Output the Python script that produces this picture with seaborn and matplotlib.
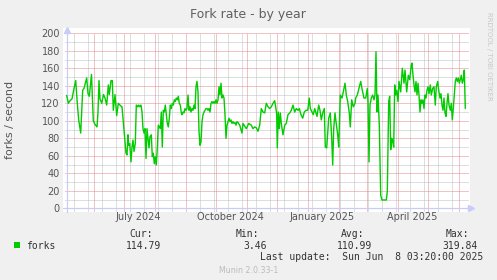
import numpy as np
import pandas as pd
import matplotlib
matplotlib.use("Agg")
import matplotlib.pyplot as plt
import matplotlib.dates as mdates
from matplotlib.patches import Rectangle
import seaborn as sns

# ---------------- data ----------------
start_date = "2024-05-04"
day_offset = [
    0.7, 2.3, 4, 6, 7.3, 9.7, 11.3, 12.7, 14.7, 16.7,
    18, 20.7, 22, 23.3, 25.5, 27.3, 29, 31, 32, 33,
    34, 35.7, 37.5, 39, 40.7, 42.3, 43.3, 45, 46.3, 47.3,
    49, 50.7, 52.3, 54.7, 56, 57, 58.7, 60, 61, 62,
    62.7, 63.7, 65, 66, 67, 68, 69.3, 70.3, 71.7, 72.7,
    73.7, 75, 76, 77, 78, 79, 80, 81, 82, 83,
    84, 85.3, 86.3, 87.3, 88.3, 89.3, 90.3, 91.3, 92.3, 93.3,
    94.3, 95.3, 96.3, 97.3, 98.3, 99.3, 100.3, 101.3, 102.3, 103.3,
    104.3, 105.3, 106.3, 107.3, 108.3, 109.3, 110.3, 111.3, 112.3, 113.3,
    114.3, 115.3, 116, 117, 118, 119, 120, 121, 122, 123,
    124, 125, 126, 127, 128, 129, 130, 131, 132, 133,
    134, 135, 136, 137, 138, 139, 140, 141, 142, 143,
    144, 145, 146, 147, 148, 149, 150, 151, 152, 153,
    154, 155, 156, 157, 158, 159, 160, 161, 162, 163,
    164, 165, 166, 167, 168, 169, 170, 171,
    172, 173.7, 176, 177, 180.3, 182.7, 185.3, 187, 188.7, 190.3,
    192, 193.7, 195.3, 197, 198.7, 200.3, 202, 203.7, 205.3, 207,
    208.7, 209.7, 210.7, 211.3, 212.3, 213.3, 214.3, 215.3, 217, 218.7,
    220.3, 222, 223.7, 225.3, 227, 228.7, 230.3, 232, 233.3, 235,
    236.7, 238.3, 240, 241.7, 243.3, 244.3, 246, 247.3, 248.7, 250,
    251, 252.7, 254, 255.3, 256.7, 258.3, 259.3, 260.7, 262.7, 264.3,
    265.7, 266.7, 267.7, 269, 270, 271.7, 272.7, 274.3, 276, 277.3,
    279, 280.3, 281.7, 283.3, 284.3, 285.7, 287.3, 289, 289.7, 291.3,
    293, 294.7, 296.3, 298, 299.7, 301.3, 302, 303, 304, 305.3,
    306.7, 308, 309, 310, 311, 312, 313.3, 314.7, 316, 318,
    320.3, 321.3, 322.7, 323.7, 324.7, 325.7, 326.7, 327.7, 328.7, 329.7,
    330.7, 332, 333, 334.7, 336.3, 338, 339, 340.7, 342.3, 343.7,
    345.3, 346, 347, 348, 349, 350, 351, 352, 353, 354,
    355, 356, 357, 358, 359, 360, 361, 362, 363, 364.3,
    365.3, 366.7, 368, 369.3, 370.3, 371.7, 372.7, 374, 375, 376,
    377, 378, 379, 380, 381, 382, 383, 384.3, 385.3, 386.3,
    387.3, 388.3, 389.3, 390.3, 391.3, 392.3, 393.3, 394.3, 395.3, 396.3,
    397.3, 398.3, 399.3,
]
forks = [
    129, 120, 123, 125, 133, 146, 120, 101, 86, 135,
    137, 149, 131, 128, 153, 100, 96, 93, 110, 146,
    125, 120, 130, 126, 118, 141, 130, 146, 146, 112,
    130, 106, 120, 117, 116, 103, 82, 63, 61, 84,
    72, 74, 53, 70, 78, 65, 74, 118, 116, 118,
    116, 118, 110, 91, 86, 91, 57, 91, 80, 69,
    82, 84, 59, 63, 51, 59, 49.5, 69, 95, 93,
    91, 110, 70, 112, 110, 118, 107, 97, 93, 103,
    118, 114, 120, 118, 124, 122, 126, 124, 128, 120,
    118, 109, 107, 110, 109, 114, 112, 114, 129.5, 112,
    116, 110, 114, 112, 118, 114, 139, 145, 133, 88,
    72, 76, 99, 107, 110, 112, 114, 114, 112, 114,
    110, 120, 122, 120, 122, 120, 124, 120, 124, 139,
    129.5, 143, 126, 129.5, 126, 107, 80, 95, 99, 103,
    99, 101, 97, 99, 97, 98, 95, 99,
    98, 95, 86, 97, 91, 97, 95, 91, 93, 92,
    88, 95, 114, 110, 109, 120, 116, 114, 116, 120,
    123, 116, 107, 69, 110, 91, 109, 97, 84, 95,
    97, 107, 109, 112, 118, 110, 114, 112, 114, 107,
    103, 110, 112, 112, 126, 114, 110, 107, 114, 109,
    105, 118, 112, 101, 109, 114, 70, 69, 103, 109,
    80, 49.5, 91, 109, 99, 84, 70, 129.5, 126, 133,
    143, 129.5, 122, 109, 93, 124, 116, 120, 126, 129.5,
    137, 145, 135, 126, 126, 137, 122, 53, 118, 126,
    129.5, 124, 129.5, 179, 110, 129.5, 95, 15, 9.5, 9.5,
    9.5, 19, 122, 128, 67, 80, 76, 70, 141, 129.5,
    135, 122, 145, 133, 160, 143, 158, 133, 152, 147,
    164, 166, 152, 141, 133, 145, 129.5, 143, 129.5, 110,
    124, 120, 124, 114, 129.5, 126, 135, 139, 131, 141,
    129.5, 137, 139, 118, 139, 145, 135, 126, 131, 118,
    112, 126, 109, 105, 120, 131, 118, 112, 120, 101,
    114, 129.5, 145, 149, 145, 149, 143, 147, 152, 143,
    147, 158, 114,
]

xtick_labels = ["July 2024", "October 2024", "January 2025", "April 2025"]
xtick_dates = ["2024-07-15", "2024-10-15", "2025-01-15", "2025-04-15"]
ytick_values = [0, 20, 40, 60, 80, 100, 120, 140, 160, 180, 200]
legend_name = "forks"
stat_names = ["Cur:", "Min:", "Avg:", "Max:"]
stat_values = ["114.79", "3.46", "110.99", "319.84"]

# ---------------- style ----------------
sns.set_theme(style="white")
plt.rcParams['font.family'] = ['DejaVu Sans']

W, H = 497, 280
BG = "#F0F0F0"
LINE = "#00CC00"
MAJ = "#E48890"
MINC = "#BEBEBE"
AXC = "#C8CCF8"
TXT = "#555555"

def fx(x):
    return x / W

def fy(y):
    return 1 - y / H

fig = plt.figure(figsize=(W / 100, H / 100), dpi=100, facecolor=BG)
# white canvas in pixels: x 63..470, y 28..212 ; day d -> px 66+d, value v -> px 208.3-0.875v
ax = fig.add_axes([fx(63), fy(212), (470 - 63) / W, (212 - 28) / H])
ax.set_facecolor("white")
for s in ax.spines.values():
    s.set_visible(False)

t0 = pd.Timestamp(start_date)
def dnum(d):
    return mdates.date2num(t0 + pd.Timedelta(days=d))

ax.set_xlim(dnum(-3), dnum(404))
ax.set_ylim(-(212 - 208.3) / 0.875, (208.3 - 28) / 0.875)

n = min(len(day_offset), len(forks))
df = pd.DataFrame({"date": t0 + pd.to_timedelta(day_offset[:n], unit="D"),
                   "forks": forks[:n]})

# grid (1px dotted lines)
gkw = dict(linewidth=0.72, linestyles=(0, (1, 1)))
gx0, gx1 = dnum(-1.5), dnum(402)
for v in range(10, 200, 20):
    ax.hlines(v, gx0, gx1, colors=MINC, zorder=1, **gkw)
for v in range(20, 201, 20):
    ax.hlines(v, gx0, gx1, colors=MAJ, zorder=1.2, **gkw)
months = pd.date_range("2024-06-01", "2025-06-01", freq="MS")
weeks = pd.date_range("2024-05-12", "2025-06-07", freq="14D")
for w in weeks:
    if w not in months:
        ax.vlines(mdates.date2num(w), -2.6, 200, colors=MINC, zorder=1, **gkw)
for m in months:
    ax.vlines(mdates.date2num(m), -2.6, 200, colors=MAJ, zorder=1.2, **gkw)

# axes lines + arrows
ax.plot([dnum(0.7), dnum(0.7)], [-4, 203], color=AXC, lw=0.9, zorder=2, clip_on=False)
ax.plot([dnum(-3), dnum(404)], [0, 0], color=AXC, lw=0.9, zorder=2, clip_on=False)
ax.plot([dnum(0.7)], [203.5], marker="^", color=AXC, markersize=4, zorder=2, clip_on=False)
ax.plot([dnum(405)], [0], marker=">", color=AXC, markersize=4, zorder=2, clip_on=False)

sns.lineplot(data=df, x="date", y="forks", ax=ax, color=LINE, linewidth=1.0,
             estimator=None, sort=False, legend=False, zorder=3)

ax.set_xlabel("")
ax.set_ylabel("")
ax.set_xticks([mdates.date2num(pd.Timestamp(d)) for d in xtick_dates])
ax.set_xticklabels(xtick_labels)
ax.set_yticks(ytick_values)
ax.set_yticklabels([str(v) for v in ytick_values])
ax.tick_params(axis="x", length=0, pad=0.2, labelsize=7, labelcolor=TXT)
ax.tick_params(axis="y", length=0, pad=2.2, labelsize=7, labelcolor=TXT)

# texts
fig.text(fx(248.3), fy(18), "Fork rate - by year", ha="center", va="baseline",
         fontsize=9, color="#606060")
fig.text(fx(10), fy(120), "forks / second", rotation=90, ha="center", va="center",
         fontsize=8, color=TXT)
fig.text(fx(488.5), fy(56.5), "RRDTOOL / TOBI OETIKER", rotation=270, ha="center",
         va="center", fontsize=5, color="#C8C8C8")

mono = "DejaVu Sans Mono"
fig.add_artist(Rectangle((fx(14), fy(247.5)), 6 / W, 5.5 / H, transform=fig.transFigure,
                         facecolor=LINE, edgecolor="none"))
fig.text(fx(26.5), fy(249.3), legend_name, ha="left", va="baseline", fontsize=7,
         family=mono, color="#333333")
name_right = [153, 259, 364.5, 469.5]
val_right = [161.3, 266.8, 372.3, 477.5]
for nm, xr in zip(stat_names, name_right):
    fig.text(fx(xr), fy(237.3), nm, ha="right", va="baseline", fontsize=7,
             family=mono, color="#333333")
for v, xr in zip(stat_values, val_right):
    fig.text(fx(xr), fy(249.3), v, ha="right", va="baseline", fontsize=7,
             family=mono, color="#333333")
fig.text(fx(483.5), fy(260.5), "Last update:  Sun Jun  8 03:20:00 2025", ha="right",
         va="baseline", fontsize=7, family=mono, color="#333333")
fig.text(fx(248.5), fy(272.6), "Munin 2.0.33-1", ha="center", va="baseline",
         fontsize=5.7, color="#BBBBBB")

fig.savefig("out.png", dpi=100, facecolor=BG)
